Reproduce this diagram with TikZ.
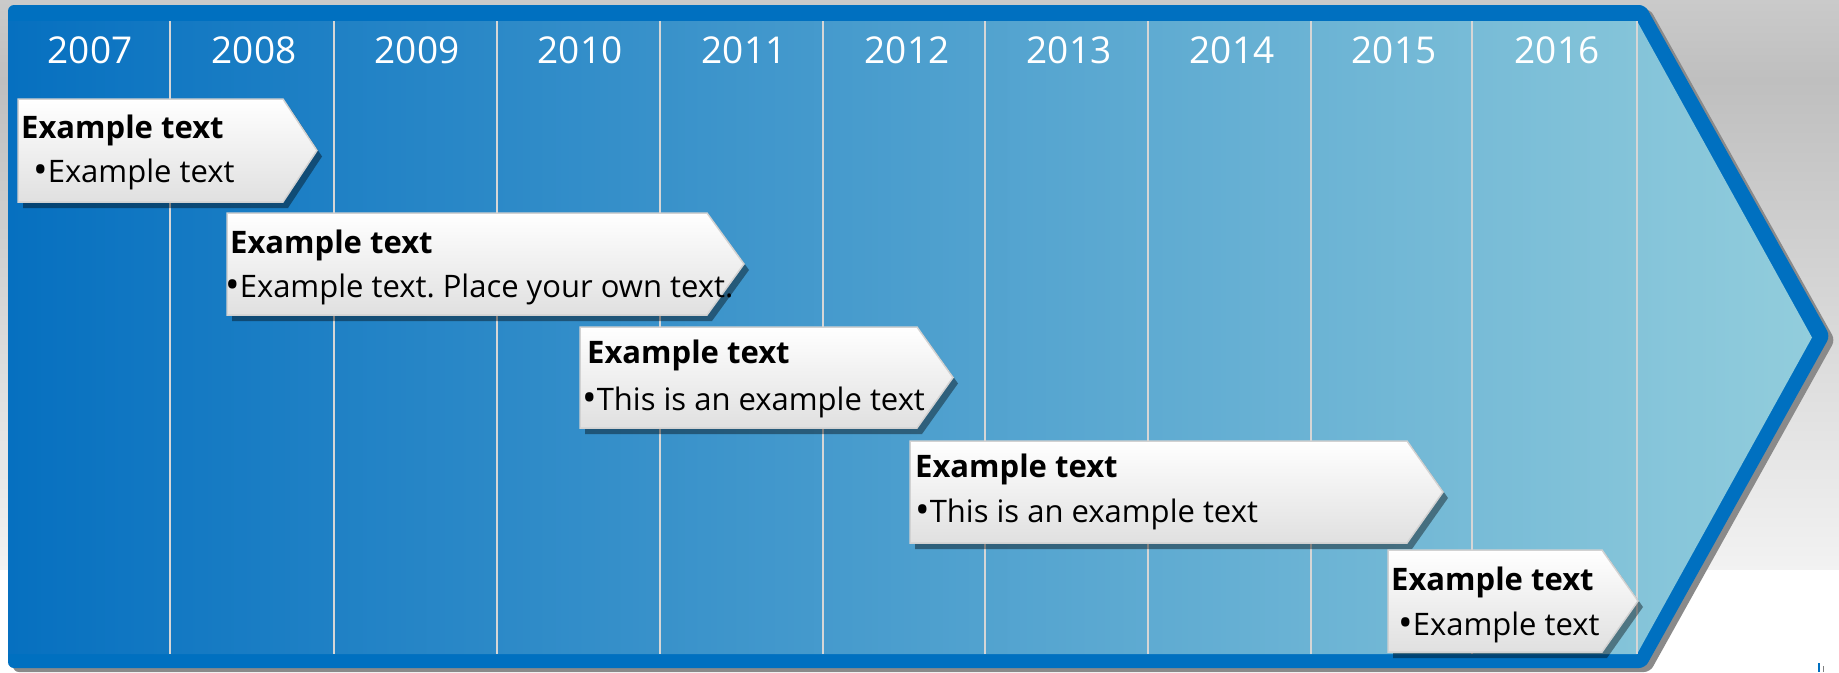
\documentclass[tikz,border=0pt]{standalone}
\usepackage{fontspec}
\setmainfont{Open Sans}
\usetikzlibrary{calc}
\frenchspacing
\definecolor{bdr}{HTML}{0070C0}
\definecolor{gL}{HTML}{0670C0}
\definecolor{gR}{HTML}{92CDDC}
\definecolor{divc}{HTML}{D6D6D6}
\definecolor{boxb}{HTML}{E0E0E0}
\definecolor{boxe}{HTML}{D2D2D2}
\definecolor{bgA}{HTML}{CACACA}
\definecolor{bgB}{HTML}{BFBFBF}
\definecolor{bgC}{HTML}{F2F2F2}
\definecolor{shd}{HTML}{8A8A8A}
\newcommand\bul{\raisebox{-0.06em}{\scalebox{1.25}{•}}}
\newcommand\callbox[5]{%
  \pgfmathsetmacro\cbm{(#2+#5)/2}%
  \fill[black,opacity=0.4,shift={(5,6)}] (#1,#2) -- (#3,#2) -- (#4,\cbm) -- (#3,#5) -- (#1,#5) -- cycle;
  \shade[top color=white,bottom color=boxb,draw=boxe,line width=1.5pt] (#1,#2) -- (#3,#2) -- (#4,\cbm) -- (#3,#5) -- (#1,#5) -- cycle;
}
\tikzset{
  year/.style={text=white,font=\fontsize{37}{44}\selectfont,inner sep=0pt,anchor=base},
  hd/.style={text=black,font=\fontsize{31}{37}\selectfont\bfseries,inner sep=0pt,anchor=base west},
  bl/.style={text=black,font=\fontsize{31}{37}\selectfont,inner sep=0pt,anchor=base west},
  divider/.style={draw=divc,line width=2pt}
}
\begin{document}
\begin{tikzpicture}[x=1pt,y=-1pt]
\useasboundingbox (0,0) rectangle (1839,672);
% background
\shade[top color=bgA,bottom color=bgB] (0,0) rectangle (1839,80);
\shade[top color=bgB,bottom color=bgC] (0,80) rectangle (1839,570);
\fill[white] (0,570) rectangle (1839,672);
% arrow shadow + border + inner
\fill[shd,rounded corners=6pt,shift={(5,4)}] (8,5) -- (1645,5) -- (1830,336) -- (1645,668) -- (8,668) -- cycle;
\fill[bdr,rounded corners=6pt] (8,5) -- (1645,5) -- (1830,336) -- (1645,668) -- (8,668) -- cycle;
\shade[left color=gL,right color=gR] (8,21) -- (1637,21) -- (1812,337.5) -- (1637,654) -- (8,654) -- cycle;
% dividers
\foreach \x in {170,334,497,660,823,985,1148,1311,1472,1637}
  \draw[divider] (\x,21) -- (\x,654);
% years
\node[year] (y2007) at (90,63) {2007};
\node[year] (y2008) at (254,63) {2008};
\node[year] (y2009) at (417,63) {2009};
\node[year] (y2010) at (580,63) {2010};
\node[year] (y2011) at (744,63) {2011};
\node[year] (y2012) at (907,63) {2012};
\node[year] (y2013) at (1069,63) {2013};
\node[year] (y2014) at (1232,63) {2014};
\node[year] (y2015) at (1394,63) {2015};
\node[year] (y2016) at (1557,63) {2016};
% callouts
\callbox{18}{99}{283}{317}{202}
\callbox{227}{213}{707}{744}{315}
\callbox{580}{327}{917}{953}{428}
\callbox{910}{441}{1407}{1443}{543}
\callbox{1388}{550}{1602}{1638}{652}
% texts
\node[hd] (h1) at (21,138) {Example text};
\node[bl] (b1) at (33,182) {\bul Example text};
\node[hd] (h2) at (230,253) {Example text};
\node[bl] (b2) at (225,297) {\bul Example text. Place your own text.};
\node[hd] (h3) at (587,363) {Example text};
\node[bl] (b3) at (582,410) {\bul This is an example text};
\node[hd] (h4) at (915,477) {Example text};
\node[bl] (b4) at (915,522) {\bul This is an example text};
\node[hd] (h5) at (1391,590) {Example text};
\node[bl] (b5) at (1398,635) {\bul Example text};
% small marks at lower right
\draw[bdr,line width=1.2pt] (1819,663) -- (1819,672);
\draw[gray,line width=1pt] (1823,666) -- (1823,672);
\end{tikzpicture}
\end{document}
